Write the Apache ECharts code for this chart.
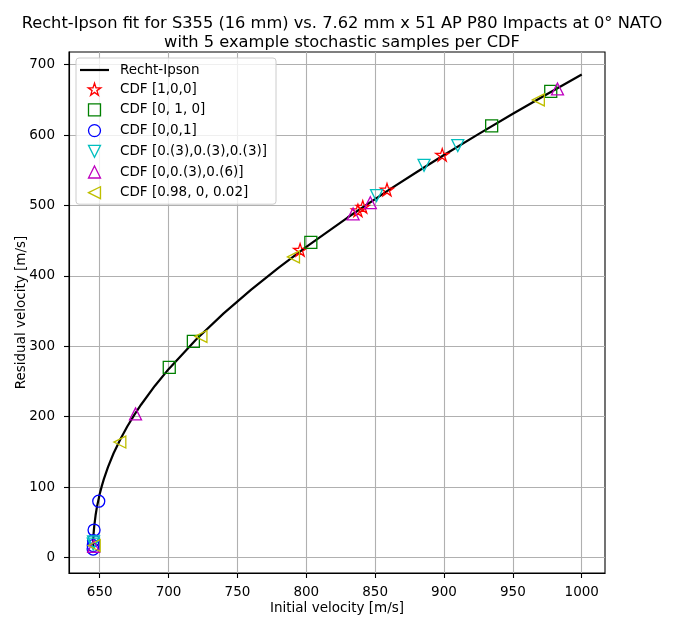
<!DOCTYPE html>
<html>
<head>
<meta charset="utf-8">
<script src="https://cdn.jsdelivr.net/npm/echarts@6/dist/echarts.min.js"></script>
<style>
  html, body { margin: 0; padding: 0; background: #ffffff; }
  #chart { width: 678px; height: 617px; }
</style>
</head>
<body>
<div id="chart"></div>
<script>
// Recht-Ipson curve, sampled (initial velocity -> residual velocity, m/s)
const curveVi = [645.1, 645.2, 645.5, 646, 647, 648, 650, 651.5, 653, 656, 660, 665, 670, 675, 680, 690, 700,
                 720, 740, 760, 780, 800, 830, 860, 880, 900, 925, 950, 975, 1000];
const curveVr = [15.8, 21.5, 32.4, 44.1, 60.0, 71.9, 90.2, 101.4, 111.3, 128.4, 147.7, 168.1, 186.1, 202.2, 217.0, 243.7, 267.5,
                 309.6, 346.7, 380.4, 411.8, 441.3, 482.9, 522.1, 547.2, 571.7, 601.3, 630.2, 658.4, 686.0];

// Stochastic samples, five per CDF: [initial velocity, residual velocity]
const cdf100 = [[795.5, 437], [837.5, 493], [841, 498], [858.6, 522.5], [898.7, 572]];
const cdf010 = [[700.5, 270], [718, 307], [803.3, 447.5], [934.6, 613], [977.5, 662]];
const cdf001 = [[649.3, 80], [645.9, 39], [645.5, 24], [645.3, 17], [645.2, 12]];
const cdfThirds = [[851, 514], [885.5, 557], [910, 585], [645.5, 22], [645.3, 19]];
const cdf0Third = [[676, 204], [834, 488], [846.5, 504], [982.4, 665.5], [645.6, 16]];
const cdf98 = [[664.6, 164], [723.5, 314], [790.7, 427], [968.5, 650], [646, 17]];

// Tick labels
const xTicks = [650, 700, 750, 800, 850, 900, 950, 1000];
const yTicks = [0, 100, 200, 300, 400, 500, 600, 700];

const seriesNames = ['Recht-Ipson', 'CDF [1,0,0]', 'CDF [0, 1, 0]', 'CDF [0,0,1]',
                     'CDF [0.(3),0.(3),0.(3)]', 'CDF [0,0.(3),0.(6)]', 'CDF [0.98, 0, 0.02]'];

const FONT = 'DejaVu Sans';
const STAR = 'path://M50,0L38.77,34.55L2.45,34.55L31.84,55.9L20.61,90.45L50,69.1L79.39,90.45L68.16,55.9L97.55,34.55L61.23,34.55Z';
const SQUARE = 'path://M0,0L20,0L20,20L0,20Z';
const CIRCLE = 'circle';
const TRI_DOWN = 'path://M0,0L20,0L10,20Z';
const TRI_UP = 'path://M10,0L20,20L0,20Z';
const TRI_LEFT = 'path://M0,10L20,0L20,20Z';
// legend handle for the curve: a short horizontal stroke inside a 29x12 box
const LINE_HANDLE = 'path://M0,0M29,12M0,4.9L29,4.9L29,7.1L0,7.1Z';

const markerDefs = [
  { data: cdf100, symbol: STAR, color: '#ff0000', size: 13 },
  { data: cdf010, symbol: SQUARE, color: '#008000', size: 12 },
  { data: cdf001, symbol: CIRCLE, color: '#0000ff', size: 12 },
  { data: cdfThirds, symbol: TRI_DOWN, color: '#00bfbf', size: 12 },
  { data: cdf0Third, symbol: TRI_UP, color: '#bf00bf', size: 12 },
  { data: cdf98, symbol: TRI_LEFT, color: '#bfbf00', size: 12 }
];

const chart = echarts.init(document.getElementById('chart'), null, { renderer: 'canvas' });

const series = [{
  name: seriesNames[0],
  type: 'line',
  data: curveVi.map((v, i) => [v, curveVr[i]]),
  showSymbol: false,
  symbol: 'none',
  smooth: false,
  lineStyle: { color: '#000000', width: 2.2 },
  itemStyle: { color: '#000000' },
  z: 2,
  silent: true
}];

markerDefs.forEach((m, i) => {
  series.push({
    name: seriesNames[i + 1],
    type: 'scatter',
    data: m.data,
    symbol: m.symbol,
    symbolSize: m.size,
    symbolKeepAspect: true,
    itemStyle: { color: 'none', borderColor: m.color, borderWidth: 1.3, opacity: 1 },
    z: 3,
    silent: true
  });
});

const legendData = [{ name: seriesNames[0], icon: LINE_HANDLE, itemStyle: { color: '#000000', borderWidth: 0 } }]
  .concat(markerDefs.map((m, i) => ({
    name: seriesNames[i + 1],
    icon: m.symbol,
    itemStyle: { color: 'none', borderColor: m.color, borderWidth: 1.3 }
  })));

chart.setOption({
  backgroundColor: '#ffffff',
  animation: false,
  title: {
    text: 'Recht-Ipson fit for S355 (16 mm) vs. 7.62 mm x 51 AP P80 Impacts at 0° NATO\nwith 5 example stochastic samples per CDF',
    left: 337,
    top: 9,
    textAlign: 'center',
    textStyle: { fontFamily: FONT, fontSize: 16.25, fontWeight: 'normal', color: '#000000', lineHeight: 19 }
  },
  grid: {
    left: 69, right: 73, top: 52, bottom: 44, containLabel: false, outerBoundsMode: 'none',
    show: true, borderColor: '#000000', borderWidth: 1.1, backgroundColor: 'transparent'
  },
  legend: {
    orient: 'vertical',
    left: 76,
    top: 58,
    padding: [5, 9, 3, 4],
    itemGap: 3.7,
    itemWidth: 29,
    itemHeight: 12,
    symbolKeepAspect: true,
    backgroundColor: 'rgba(255,255,255,0.8)',
    borderColor: '#cccccc',
    borderWidth: 1,
    borderRadius: 3,
    textStyle: { fontFamily: FONT, fontSize: 13.5, lineHeight: 12, color: '#000000', padding: [0, 0, 0, 6] },
    data: legendData,
    selectedMode: false
  },
  xAxis: {
    type: 'value',
    min: 627.7,
    max: 1016.9,
    name: 'Initial velocity [m/s]',
    nameLocation: 'middle',
    nameGap: 28,
    nameMoveOverlap: false,
    nameTextStyle: { fontFamily: FONT, fontSize: 13.5, color: '#000000' },
    axisLine: { show: true, onZero: false, lineStyle: { color: '#000000', width: 1.1 } },
    axisTick: { show: true, length: 5, lineStyle: { color: '#000000', width: 1.1 }, customValues: xTicks },
    axisLabel: { fontFamily: FONT, fontSize: 13.5, color: '#000000', margin: 12.5, customValues: xTicks,
                 formatter: v => String(v) },
    splitLine: { show: true, lineStyle: { color: '#b0b0b0', width: 1.1 } }
  },
  yAxis: {
    type: 'value',
    min: -22,
    max: 718,
    name: 'Residual velocity [m/s]',
    nameLocation: 'middle',
    nameGap: 41,
    nameMoveOverlap: false,
    nameTextStyle: { fontFamily: FONT, fontSize: 13.5, color: '#000000' },
    axisLine: { show: true, onZero: false, lineStyle: { color: '#000000', width: 1.1 } },
    axisTick: { show: true, length: 5, lineStyle: { color: '#000000', width: 1.1 }, customValues: yTicks },
    axisLabel: { fontFamily: FONT, fontSize: 13.5, color: '#000000', margin: 14, customValues: yTicks,
                 formatter: v => String(v) },
    splitLine: { show: true, lineStyle: { color: '#b0b0b0', width: 1.1 } }
  },
  series: series
});
</script>
</body>
</html>
